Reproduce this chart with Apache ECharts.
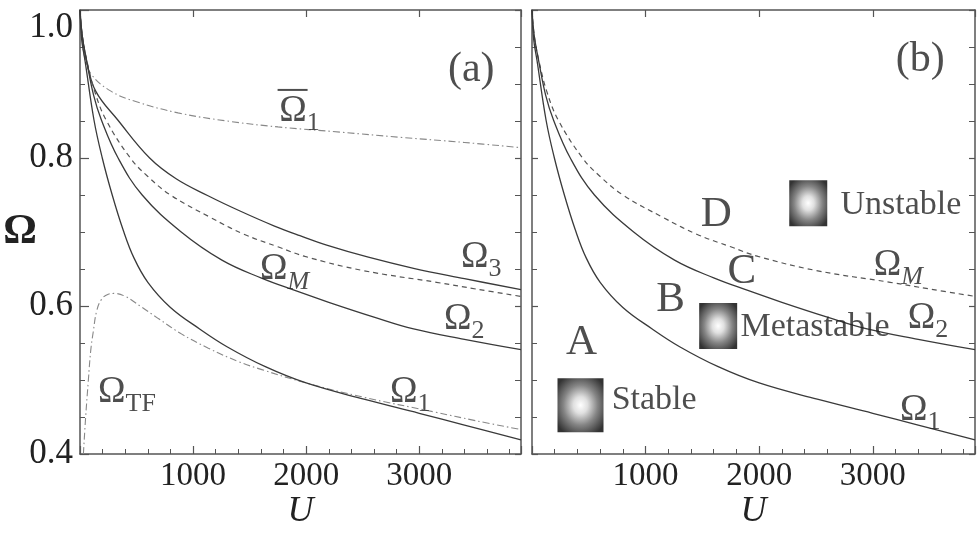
<!DOCTYPE html>
<html>
<head>
<meta charset="utf-8">
<title>Omega vs U</title>
<script src="https://cdn.jsdelivr.net/npm/echarts@6/dist/echarts.min.js"></script>
<style>
  html, body { margin: 0; padding: 0; background: #fff; }
  #main { width: 977px; height: 541px; }
</style>
</head>
<body>
<div id="main"></div>
<script>
// curves, pairs of [U, Omega]
var omegaBar1 = [[0,1.0],[15,0.965],[40,0.937],[100,0.913],[277,0.890],[500,0.876],[867,0.861],[1300,0.850],[1751,0.842],[2300,0.835],[2830,0.828],[3400,0.821],[3900,0.814]];
var omega3 = [[0,1.0],[20,0.965],[60,0.93],[140,0.89],[336,0.851],[616,0.80],[850,0.772],[1132,0.749],[1420,0.728],[1720,0.708],[1945,0.695],[2189,0.682],[2550,0.666],[2950,0.651],[3400,0.637],[3900,0.622]];
var omegaM = [[0,1.0],[20,0.965],[60,0.932],[130,0.89],[232,0.851],[445,0.80],[600,0.775],[800,0.75],[1150,0.72],[1450,0.697],[1750,0.680],[1990,0.667],[2500,0.648],[3153,0.632],[3500,0.623],[3900,0.613]];
var omega2 = [[0,1.0],[20,0.965],[58,0.932],[120,0.885],[190,0.851],[337,0.80],[550,0.75],[895,0.70],[1255,0.662],[1600,0.638],[1900,0.621],[2200,0.605],[2600,0.585],[2950,0.569],[3400,0.555],[3900,0.541]];
var omega1 = [[0,1.0],[15,0.96],[44,0.932],[124,0.851],[197,0.80],[285,0.75],[381,0.703],[477,0.665],[600,0.632],[800,0.598],[1058,0.569],[1300,0.545],[1639,0.518],[2000,0.496],[2511,0.474],[3000,0.455],[3400,0.439],[3900,0.419]];
var omegaTF = [[30,0.40],[50,0.45],[74,0.50],[95,0.54],[118,0.566],[147,0.593],[190,0.609],[250,0.616],[300,0.617],[400,0.613],[550,0.598],[693,0.583],[900,0.562],[1135,0.543],[1400,0.525],[1608,0.514],[2000,0.496],[2500,0.477],[3127,0.457],[3500,0.445],[3900,0.433]];

var xTickLabels = [1000, 2000, 3000];
var yTickLabels = [0.4, 0.6, 0.8, 1.0];
var uMax = 3900;

var SERIF = "'Liberation Serif', 'DejaVu Serif', serif";
var AX = '#555';
var INK = '#222';

var solid = { color: '#3a3a3a', width: 1.3 };
var dashed = { color: '#555', width: 1.2, type: [5, 4] };
var dashDot = { color: '#888', width: 1.1, type: [7, 3, 1.5, 3] };

var rich = {
  o:  { fontFamily: SERIF, fontSize: 37, color: INK, lineHeight: 50 },
  s:  { fontFamily: SERIF, fontSize: 26, color: INK, verticalAlign: 'bottom' },
  si: { fontFamily: SERIF, fontSize: 26, color: INK, fontStyle: 'italic', verticalAlign: 'bottom' },
  big:{ fontFamily: SERIF, fontSize: 43, color: INK },
  pn: { fontFamily: SERIF, fontSize: 42, color: INK },
  tx: { fontFamily: SERIF, fontSize: 34, color: INK }
};

// annotation placement, [U, Omega] of the label centre
var labelsA = [
  { t: '{o|Ω}{s|1}', at: [1942, 0.863] },
  { t: '{o|Ω}{s|3}', at: [3548, 0.666] },
  { t: '{o|Ω}{si|M}', at: [1809, 0.649] },
  { t: '{o|Ω}{s|2}', at: [3398, 0.582] },
  { t: '{o|Ω}{s|1}', at: [2921, 0.484] },
  { t: '{o|Ω}{s|TF}', at: [415, 0.484] },
  { t: '{pn|(a)}', at: [3460, 0.919] }
];
var labelsB = [
  { t: '{pn|(b)}', at: [3418, 0.932] },
  { t: '{big|D}', at: [1622, 0.723] },
  { t: '{big|C}', at: [1848, 0.646] },
  { t: '{big|B}', at: [1221, 0.608] },
  { t: '{big|A}', at: [436, 0.551] },
  { t: '{o|Ω}{si|M}', at: [3226, 0.655] },
  { t: '{o|Ω}{s|2}', at: [3487, 0.584] },
  { t: '{o|Ω}{s|1}', at: [3418, 0.459] }
];
var stateText = [
  { t: '{tx|Stable}', at: [697, 0.473] },
  { t: '{tx|Metastable}', at: [1831, 0.572] },
  { t: '{tx|Unstable}', at: [2711, 0.736] }
];
var blobs = [
  { at: [427, 0.466], size: [46, 54] },
  { at: [1639, 0.573], size: [38, 46] },
  { at: [2432, 0.739], size: [38, 46] }
];

function xBottom(grid, name) {
  return {
    gridIndex: grid, type: 'value', min: 0, max: uMax, interval: 1000, position: 'bottom',
    axisLine: { show: true, onZero: false, lineStyle: { color: AX, width: 1.5 } },
    axisTick: { show: true, inside: true, length: 8, lineStyle: { color: AX, width: 1.2 } },
    minorTick: { show: true, splitNumber: 5, length: 5, lineStyle: { color: AX, width: 1 } },
    splitLine: { show: false },
    axisLabel: {
      fontFamily: SERIF, fontSize: 33, color: INK, margin: 6, showMaxLabel: false,
      formatter: function (v) { return xTickLabels.indexOf(v) >= 0 ? String(v) : ''; }
    },
    name: name, nameLocation: 'middle', nameGap: 58, nameMoveOverlap: false,
    nameTextStyle: { fontFamily: SERIF, fontSize: 36, fontStyle: 'italic', color: INK, verticalAlign: 'middle' }
  };
}
function xTop(grid) {
  return {
    gridIndex: grid, type: 'value', min: 0, max: uMax, interval: 1000, position: 'top',
    axisLine: { show: true, onZero: false, lineStyle: { color: AX, width: 1.5 } },
    axisTick: { show: true, inside: true, length: 7, lineStyle: { color: AX, width: 1.2 } },
    splitLine: { show: false }, axisLabel: { show: false }
  };
}
function yLeft(grid, labels) {
  return {
    gridIndex: grid, type: 'value', min: 0.4, max: 1.0, interval: 0.2, position: 'left',
    axisLine: { show: true, onZero: false, lineStyle: { color: AX, width: 1.5 } },
    axisTick: { show: true, inside: true, length: labels ? 9 : 6, lineStyle: { color: AX, width: 1.2 } },
    minorTick: { show: true, splitNumber: 4, length: 5, lineStyle: { color: AX, width: 1 } },
    splitLine: { show: false },
    axisLabel: {
      show: labels, fontFamily: SERIF, fontSize: 35, color: INK, margin: 7,
      verticalAlignMaxLabel: 'top',
      formatter: function (v) {
        for (var i = 0; i < yTickLabels.length; i++) {
          if (Math.abs(v - yTickLabels[i]) < 1e-6) return yTickLabels[i].toFixed(1);
        }
        return '';
      }
    },
    name: labels ? 'Ω' : '', nameLocation: 'middle', nameGap: 60, nameRotate: 0, nameMoveOverlap: false,
    nameTextStyle: { fontFamily: SERIF, fontSize: 42, fontWeight: 'bold', color: INK, align: 'center', verticalAlign: 'middle', padding: [0, 0, 20, 0] }
  };
}
function yRight(grid) {
  return {
    gridIndex: grid, type: 'value', min: 0.4, max: 1.0, interval: 0.2, position: 'right',
    axisLine: { show: true, onZero: false, lineStyle: { color: AX, width: 1.5 } },
    axisTick: { show: true, inside: true, length: 6, lineStyle: { color: AX, width: 1.2 } },
    minorTick: { show: true, splitNumber: 4, length: 6, lineStyle: { color: AX, width: 1 } },
    splitLine: { show: false }, axisLabel: { show: false }
  };
}

function curve(data, style, xi, yi) {
  return {
    type: 'line', data: data, xAxisIndex: xi, yAxisIndex: yi,
    showSymbol: false, symbol: 'none', smooth: 0.4, silent: true,
    lineStyle: style, z: 2, animation: false
  };
}

function textSeries(list, xi, yi, pos) {
  return {
    type: 'scatter', xAxisIndex: xi, yAxisIndex: yi, silent: true, animation: false,
    symbolSize: 1, itemStyle: { color: 'rgba(0,0,0,0)' }, z: 5,
    data: list.map(function (d) {
      return {
        value: d.at,
        label: { show: true, position: pos, distance: 0, rich: rich, formatter: d.t }
      };
    })
  };
}

var blobFill = {
  type: 'radial', x: 0.5, y: 0.5, r: 0.62,
  colorStops: [
    { offset: 0, color: '#ffffff' },
    { offset: 0.25, color: '#d8d8d8' },
    { offset: 0.6, color: '#666666' },
    { offset: 1, color: '#000000' }
  ]
};

var option = {
  backgroundColor: '#fff',
  animation: false,
  grid: [
    { left: 80, top: 10, width: 441, height: 444, containLabel: false, outerBoundsMode: 'none' },
    { left: 532, top: 10, width: 443, height: 444, containLabel: false, outerBoundsMode: 'none' }
  ],
  xAxis: [xBottom(0, 'U'), xTop(0), xBottom(1, 'U'), xTop(1)],
  yAxis: [yLeft(0, true), yRight(0), yLeft(1, false), yRight(1)],
  series: [
    curve(omegaBar1, dashDot, 0, 0),
    curve(omega3, solid, 0, 0),
    curve(omegaM, dashed, 0, 0),
    curve(omega2, solid, 0, 0),
    curve(omegaTF, dashDot, 0, 0),
    curve(omega1, solid, 0, 0),
    curve(omegaM, dashed, 2, 2),
    curve(omega2, solid, 2, 2),
    curve(omega1, solid, 2, 2),
    // overline of the first label
    {
      type: 'scatter', xAxisIndex: 0, yAxisIndex: 0, silent: true, animation: false,
      symbol: 'rect', symbolSize: [30, 2], itemStyle: { color: INK }, z: 5,
      data: [[1880, 0.892]]
    },
    {
      type: 'scatter', xAxisIndex: 2, yAxisIndex: 2, silent: true, animation: false,
      symbol: 'rect', z: 4,
      data: blobs.map(function (b) {
        return { value: b.at, symbolSize: b.size, itemStyle: { color: blobFill } };
      })
    },
    textSeries(labelsA, 0, 0, 'inside'),
    textSeries(labelsB, 2, 2, 'inside'),
    textSeries(stateText, 2, 2, 'right')
  ]
};

var chart = echarts.init(document.getElementById('main'), null, { renderer: 'canvas' });
chart.setOption(option);
</script>
</body>
</html>
